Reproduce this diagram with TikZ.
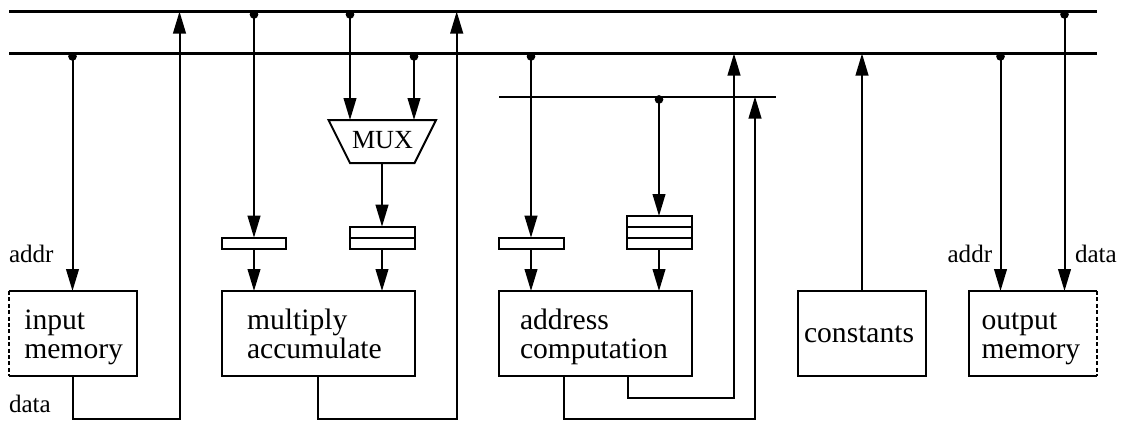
\documentclass[tikz,border=0pt]{standalone}
\usepackage{fontspec}
\setmainfont{Liberation Serif}
\usetikzlibrary{arrows.meta,calc}
\newcommand{\bigfnt}{\fontsize{22.2pt}{23pt}\selectfont}
\newcommand{\smallfnt}{\fontsize{18.8pt}{20pt}\selectfont}
\newcommand{\muxfnt}{\fontsize{19.6pt}{20pt}\selectfont}
\tikzset{
  x=0.75pt,y=-0.75pt,
  wire/.style={line width=1.5pt,line join=miter},
  arr/.style={wire,-{Triangle[length=16.5pt,width=9.5pt,sep=0pt]}},
  busline/.style={line width=1.7pt},
  tap/.style={circle,fill=black,draw=none,inner sep=0pt,minimum size=6.5pt},
  box/.style={draw,line width=1.5pt,rectangle,inner sep=0pt,outer sep=0pt},
  membox/.style={rectangle,inner sep=0pt,outer sep=0pt},
  lab/.style={inner sep=0pt,outer sep=0pt,anchor=base west,font=\bigfnt},
  smalllab/.style={inner sep=0pt,outer sep=0pt,anchor=base west,font=\smallfnt},
  memedge/.style={line width=1.5pt,dash pattern=on 3pt off 1.8pt}
}
\newcommand{\boxat}[6]{\node[#1,minimum width=#5*0.75pt-#3*0.75pt,minimum height=#6*0.75pt-#4*0.75pt] (#2) at ({(#3+#5)/2},{(#4+#6)/2}) {};}
\begin{document}
\begin{tikzpicture}
\useasboundingbox (0,0) rectangle (1123,422);
% buses
\coordinate (b1l) at (9,11.5); \coordinate (b1r) at (1097,11.5);
\coordinate (b2l) at (9,53.5); \coordinate (b2r) at (1097,53.5);
\coordinate (b3l) at (499,96.5); \coordinate (b3r) at (776,96.5);
\draw[busline] (b1l) -- (b1r);
\draw[busline] (b2l) -- (b2r);
\draw[wire] (b3l) -- (b3r);
% boxes
\boxat{membox}{inmem}{9}{291}{137}{376}
\boxat{box}{mac}{222}{291}{414.5}{376}
\boxat{box}{addrc}{499}{291}{691.5}{376}
\boxat{box}{const}{798}{291}{926}{376}
\boxat{membox}{outmem}{968.5}{291}{1096.5}{376}
\draw[wire] (inmem.north west) -- (inmem.north east) -- (inmem.south east) -- (inmem.south west);
\draw[memedge] (inmem.north west) -- (inmem.south west);
\draw[wire] (outmem.north east) -- (outmem.north west) -- (outmem.south west) -- (outmem.south east);
\draw[memedge] (outmem.north east) -- (outmem.south east);
% registers
\boxat{box}{rega}{222}{237.7}{286}{248.7}
\boxat{box}{regb}{350}{226.7}{414.5}{248.7}
\draw[wire] (regb.west) -- (regb.east);
\boxat{box}{regc}{499}{237.7}{564}{248.7}
\boxat{box}{regd}{627}{216}{691.5}{248.7}
\draw[wire] ($(regd.north west)!0.333!(regd.south west)$) -- ($(regd.north east)!0.333!(regd.south east)$);
\draw[wire] ($(regd.north west)!0.667!(regd.south west)$) -- ($(regd.north east)!0.667!(regd.south east)$);
% mux
\node[inner sep=0pt] (mux) at (382,141) {};
\coordinate (muxtl) at (328.5,120); \coordinate (muxtr) at (436,120);
\coordinate (muxbl) at (350,163); \coordinate (muxbr) at (414.5,163);
\draw[wire] (muxtl) -- (muxtr) -- (muxbr) -- (muxbl) -- cycle;
\node[lab,font=\muxfnt,anchor=base] (muxl) at (382.5,148) {MUX};
% taps
\coordinate (ta) at (72.5,53.5);
\coordinate (tb) at (254,11.5);
\coordinate (tc) at (350,11.5);
\coordinate (td) at (414,53.5);
\coordinate (te) at (531,53.5);
\coordinate (tf) at (659,96.5);
\coordinate (tg) at (1000.5,53.5);
\coordinate (th) at (1064.5,11.5);
\foreach \t in {ta,tb,tc,td,te,tf,tg,th}{
  \node[tap] (\t d) at ([yshift=-2.2pt]\t) {};
}
% connectors down
\draw[arr] (ta) -- (ta |- inmem.north);
\draw[arr] (tb) -- (tb |- rega.north);
\draw[arr] (tb |- rega.south) -- (tb |- mac.north);
\draw[arr] (tc) -- (tc |- muxtl);
\draw[arr] (td) -- (td |- muxtr);
\draw[arr] (mux |- muxbl) -- (mux |- regb.north);
\draw[arr] (mux |- regb.south) -- (mux |- mac.north);
\draw[arr] (te) -- (te |- regc.north);
\draw[arr] (te |- regc.south) -- (te |- addrc.north);
\draw[arr] (tf) -- (tf |- regd.north);
\draw[arr] (tf |- regd.south) -- (tf |- addrc.north);
\draw[arr] (tg) -- (tg |- outmem.north);
\draw[arr] (th) -- (th |- outmem.north);
% connectors up
\coordinate (ra) at (179.5,419);
\coordinate (rb) at (456.7,419);
\coordinate (rc) at (734,397.7);
\coordinate (rd) at (755,419);
\coordinate (sa) at (318,376);
\coordinate (sb) at (627.5,376);
\coordinate (sc) at (564,376);
\draw[arr] (ta |- inmem.south) |- (ra) -- (ra |- b1l);
\draw[arr] (sa) |- (rb) -- (rb |- b1l);
\draw[arr] (sb) |- (rc) -- (rc |- b2l);
\draw[arr] (sc) |- (rd) -- (rd |- b3l);
\draw[arr] (const.north) -- (const.north |- b2l);
% labels
\node[lab] (t1) at (24.3,329) {input};
\node[lab] (t2) at (24.3,358) {memory};
\node[lab] (t3) at (247,329) {multiply};
\node[lab] (t4) at (247,358) {accumulate};
\node[lab] (t5) at (520,329) {address};
\node[lab] (t6) at (520,358) {computation};
\node[lab] (t7) at (804,342) {constants};
\node[lab] (t8) at (981.6,329) {output};
\node[lab] (t9) at (981.6,358) {memory};
\node[smalllab] (t10) at (9,262) {addr};
\node[smalllab] (t11) at (9,412) {data};
\node[smalllab] (t12) at (947.6,262) {addr};
\node[smalllab] (t13) at (1075,262) {data};
\end{tikzpicture}
\end{document}
